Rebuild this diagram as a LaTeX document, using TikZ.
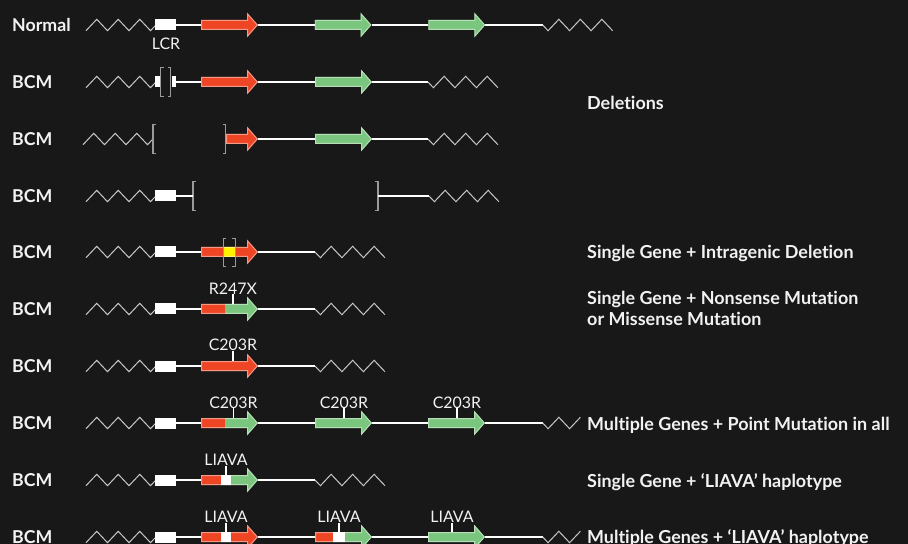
\documentclass[tikz,border=0pt]{standalone}
\usepackage{fontspec}
\setmainfont{Lato}[Ligatures={NoCommon}]
\definecolor{bg}{HTML}{181818}
\definecolor{gred}{HTML}{EE4524}
\definecolor{ggreen}{HTML}{7BC67E}
\definecolor{gyellow}{HTML}{FFF200}
\definecolor{zigc}{HTML}{C8C8C8}
\definecolor{brkc}{HTML}{9A9A9A}
\definecolor{txt}{HTML}{F2F2F2}
\newcommand\arrowshape[1]{(#1,-5) -- (46,-5) -- (46,-12.5) -- (57,0) -- (46,12.5) -- (46,5) -- (#1,5) -- cycle}
\newcommand\seg[3]{\fill[#1] (#2,-13) rectangle (#3,13);}
\newcommand\gene[5]{%
  \begin{scope}[shift={(#2,#3)}]
    \begin{scope}
      \clip \arrowshape{#4};
      #5
      \draw[white,opacity=.45,line width=2bp] \arrowshape{#4};
    \end{scope}
    \coordinate (#1w) at (#4,0);
    \coordinate (#1e) at (57,0);
  \end{scope}}
\newcommand\lzig[2]{\draw[zig] (#1,#2+5.7) -- ++(10.75,-11.4) -- ++(10.75,11.4) -- ++(10.75,-11.4) -- ++(10.75,11.4) -- ++(10.75,-11.4) -- ++(10.75,11.4) -- ++(4.5,-4.77);}
\newcommand\rzigfull[1]{\draw[zig] (#1) -- ++(5.4,5.7) -- ++(10.75,-11.4) -- ++(10.75,11.4) -- ++(10.75,-11.4) -- ++(10.75,11.4) -- ++(10.75,-11.4) -- ++(10.75,11.4);}
\newcommand\rzigshort[1]{\draw[zig] (#1) -- ++(5.4,5.7) -- ++(10.75,-11.4) -- ++(10.75,11.4) -- ++(10.75,-11.4);}
\newcommand\lbrk[2]{\draw[brk] (#1+3,#2-14.3) -- (#1,#2-14.3) -- (#1,#2+14.3) -- (#1+3,#2+14.3);}
\newcommand\rbrk[2]{\draw[brk] (#1-3,#2-14.3) -- (#1,#2-14.3) -- (#1,#2+14.3) -- (#1-3,#2+14.3);}
\begin{document}
\begin{tikzpicture}[x=1bp,y=-1bp,
  chrom/.style={draw=white,line width=1.8bp},
  zig/.style={draw=zigc,line width=1bp,line join=miter},
  brk/.style={draw=brkc,line width=1.3bp},
  lcrbox/.style={fill=white,draw=none,inner sep=0,minimum width=21bp,minimum height=11bp},
  rowlab/.style={anchor=base west,inner sep=0,text=txt,font=\fontsize{17.8}{20}\selectfont\bfseries},
  desc/.style={anchor=base west,inner sep=0,text=txt,font=\fontsize{18}{21}\selectfont\bfseries},
  mutlab/.style={anchor=base,inner sep=0,text=txt,font=\fontsize{16}{19}\selectfont},
  tick/.style={draw=white,line width=1.2bp}]
\fill[bg] (0,0) rectangle (908,544);
\useasboundingbox (0,0) rectangle (908,544);

% ---------- Row 0: Normal ----------
\node[rowlab] (r0) at (12,31.3) {Normal};
\lzig{86}{25}
\node[lcrbox] (b0) at (165.5,25) {};
\node[mutlab] (lcr) at (166,50) {LCR};
\gene{a01}{201}{25}{0}{\seg{gred}{0}{58}}
\gene{a02}{314.5}{25}{0}{\seg{ggreen}{0}{58}}
\gene{a03}{428.3}{25}{0}{\seg{ggreen}{0}{58}}
\coordinate (e0) at (542.7,25);
\draw[chrom] (b0.east) -- (a01w) (a01e) -- (a02w) (a02e) -- (a03w) (a03e) -- (e0);
\rzigfull{e0}

% ---------- Row 1 ----------
\node[rowlab] (r1) at (12,88.3) {BCM};
\lzig{86}{82}
\node[lcrbox,minimum width=5bp] (b1a) at (157.5,82) {};
\node[lcrbox,minimum width=4.5bp] (b1b) at (173.75,82) {};
\lbrk{160.7}{82}
\rbrk{170.7}{82}
\gene{a11}{201}{82}{0}{\seg{gred}{0}{58}}
\gene{a12}{315}{82}{0}{\seg{ggreen}{0}{58}}
\coordinate (e1) at (428,82);
\draw[chrom] (b1b.east) -- (a11w) (a11e) -- (a12w) (a12e) -- (e1);
\rzigfull{e1}
\node[desc] (d1) at (587,109.5) {Deletions};

% ---------- Row 2 ----------
\node[rowlab] (r2) at (12,145.3) {BCM};
\lzig{83}{139}
\lbrk{153}{139}
\rbrk{225.5}{139}
\gene{a21}{201}{139}{25}{\seg{gred}{0}{58}}
\gene{a22}{315}{139}{0}{\seg{ggreen}{0}{58}}
\coordinate (e2) at (428,139);
\draw[chrom] (a21e) -- (a22w) (a22e) -- (e2);
\rzigfull{e2}

% ---------- Row 3 ----------
\node[rowlab] (r3) at (12,202.3) {BCM};
\lzig{86}{196}
\node[lcrbox] (b3) at (165.5,196) {};
\coordinate (k3a) at (193,196);
\coordinate (k3b) at (378,196);
\lbrk{193}{196}
\rbrk{378}{196}
\coordinate (e3) at (429,196);
\draw[chrom] (b3.east) -- (k3a) (k3b) -- (e3);
\rzigfull{e3}

% ---------- Row 4 ----------
\node[rowlab] (r4) at (12,258.3) {BCM};
\lzig{86}{252}
\node[lcrbox] (b4) at (165.5,252) {};
\gene{a41}{201}{252}{0}{\seg{gred}{0}{23}\seg{gyellow}{23}{34.3}\seg{gred}{34.3}{58}}
\lbrk{223.3}{252.5}
\rbrk{235.3}{252.5}
\coordinate (e4) at (315,252);
\draw[chrom] (b4.east) -- (a41w) (a41e) -- (e4);
\rzigfull{e4}
\node[desc] (d4) at (587,258.5) {Single Gene + Intragenic Deletion};

% ---------- Row 5 ----------
\node[rowlab] (r5) at (12,315.3) {BCM};
\lzig{86}{309}
\node[lcrbox] (b5) at (165.5,309) {};
\gene{a51}{201}{309}{0}{\seg{gred}{0}{24.3}\seg{ggreen}{24.3}{58}}
\node[mutlab] (m5) at (233,294.5) {R247X};
\coordinate (t5) at (233,304);
\draw[tick] (m5.base) -- (t5);
\coordinate (e5) at (315,309);
\draw[chrom] (b5.east) -- (a51w) (a51e) -- (e5);
\rzigfull{e5}
\node[desc] (d5a) at (587,304.3) {Single Gene + Nonsense Mutation};
\node[desc] (d5b) at (587,325.5) {or Missense Mutation};

% ---------- Row 6 ----------
\node[rowlab] (r6) at (12,372.3) {BCM};
\lzig{86}{366}
\node[lcrbox] (b6) at (165.5,366) {};
\gene{a61}{201}{366}{0}{\seg{gred}{0}{58}}
\node[mutlab] (m6) at (233,351) {C203R};
\coordinate (t6) at (233,361);
\draw[tick] (m6.base) -- (t6);
\coordinate (e6) at (315,366);
\draw[chrom] (b6.east) -- (a61w) (a61e) -- (e6);
\rzigfull{e6}

% ---------- Row 7 ----------
\node[rowlab] (r7) at (12,429.3) {BCM};
\lzig{86}{423}
\node[lcrbox] (b7) at (165.5,423) {};
\gene{a71}{201}{423}{0}{\seg{gred}{0}{24}\seg{ggreen}{24}{58}}
\gene{a72}{315}{423}{0}{\seg{ggreen}{0}{58}}
\gene{a73}{428}{423}{0}{\seg{ggreen}{0}{58}}
\node[mutlab] (m71) at (233.5,408) {C203R};
\node[mutlab] (m72) at (344,408) {C203R};
\node[mutlab] (m73) at (457,408) {C203R};
\coordinate (t71) at (233.5,418);
\coordinate (t72) at (344,418);
\coordinate (t73) at (457,418);
\draw[tick] (m71.base) -- (t71) (m72.base) -- (t72) (m73.base) -- (t73);
\coordinate (e7) at (542.7,423);
\draw[chrom] (b7.east) -- (a71w) (a71e) -- (a72w) (a72e) -- (a73w) (a73e) -- (e7);
\rzigshort{e7}
\node[desc] (d7) at (587,430.7) {Multiple Genes + Point Mutation in all};

% ---------- Row 8 ----------
\node[rowlab] (r8) at (12,486.3) {BCM};
\lzig{86}{480}
\node[lcrbox] (b8) at (165.5,480) {};
\gene{a81}{201}{480}{0}{\seg{gred}{0}{19.7}\seg{white}{19.7}{30}\seg{ggreen}{30}{58}}
\node[mutlab] (m8) at (226,465.5) {LIAVA};
\coordinate (t8) at (226,475);
\draw[tick] (m8.base) -- (t8);
\coordinate (e8) at (315,480);
\draw[chrom] (b8.east) -- (a81w) (a81e) -- (e8);
\rzigfull{e8}
\node[desc] (d8) at (587,487.3) {Single Gene + ‘LIAVA’ haplotype};

% ---------- Row 9 ----------
\node[rowlab] (r9) at (12,543.3) {BCM};
\lzig{86}{537}
\node[lcrbox] (b9) at (165.5,537) {};
\gene{a91}{201}{537}{0}{\seg{gred}{0}{19.7}\seg{white}{19.7}{30}\seg{gred}{30}{58}}
\gene{a92}{315}{537}{0}{\seg{gred}{0}{18.3}\seg{white}{18.3}{30}\seg{ggreen}{30}{58}}
\gene{a93}{428}{537}{0}{\seg{ggreen}{0}{58}}
\node[mutlab] (m91) at (226,522.5) {LIAVA};
\node[mutlab] (m92) at (339,522.5) {LIAVA};
\node[mutlab] (m93) at (452,522.5) {LIAVA};
\coordinate (t91) at (226,532);
\coordinate (t92) at (339,532);
\coordinate (t93) at (452,532);
\draw[tick] (m91.base) -- (t91) (m92.base) -- (t92) (m93.base) -- (t93);
\coordinate (e9) at (542.7,537);
\draw[chrom] (b9.east) -- (a91w) (a91e) -- (a92w) (a92e) -- (a93w) (a93e) -- (e9);
\rzigshort{e9}
\node[desc] (d9) at (587,543.6) {Multiple Genes + ‘LIAVA’ haplotype};
\end{tikzpicture}
\end{document}
